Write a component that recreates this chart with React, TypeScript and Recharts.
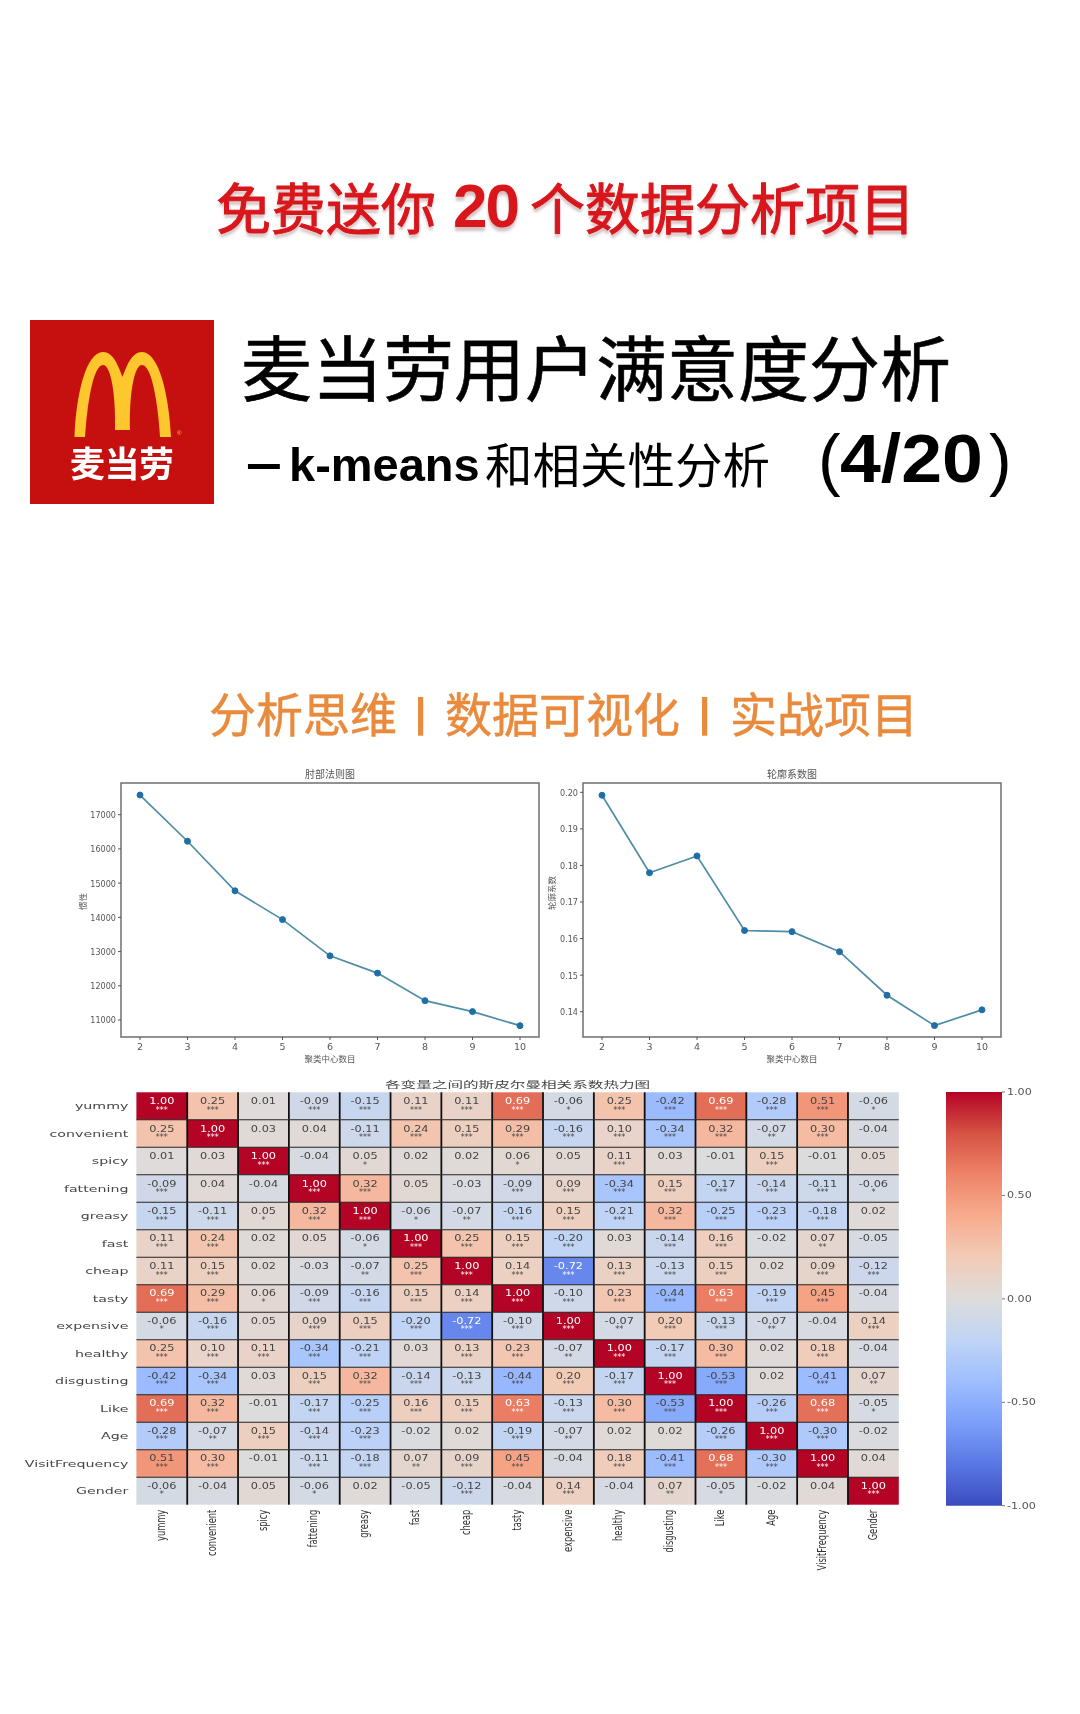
import { CSSProperties } from 'react'
import {
  LineChart, Line, BarChart, Bar, ScatterChart, Scatter, XAxis, YAxis, ReferenceArea,
} from 'recharts'

const clusterCounts = [2, 3, 4, 5, 6, 7, 8, 9, 10]
const inertiaValues = [17575, 16225, 14775, 13935, 12875, 12370, 11565, 11245, 10835]
const silhouetteValues = [0.1992, 0.178, 0.1826, 0.1622, 0.1619, 0.1564, 0.1445, 0.1362, 0.1405]
const inertiaTicks = [11000, 12000, 13000, 14000, 15000, 16000, 17000]
const silhouetteTicks = [0.14, 0.15, 0.16, 0.17, 0.18, 0.19, 0.2]

const variables = [
  'yummy', 'convenient', 'spicy', 'fattening', 'greasy', 'fast', 'cheap', 'tasty',
  'expensive', 'healthy', 'disgusting', 'Like', 'Age', 'VisitFrequency', 'Gender',
]

const correlations = [
  [1.0, 0.25, 0.01, -0.09, -0.15, 0.11, 0.11, 0.69, -0.06, 0.25, -0.42, 0.69, -0.28, 0.51, -0.06],
  [0.25, 1.0, 0.03, 0.04, -0.11, 0.24, 0.15, 0.29, -0.16, 0.1, -0.34, 0.32, -0.07, 0.3, -0.04],
  [0.01, 0.03, 1.0, -0.04, 0.05, 0.02, 0.02, 0.06, 0.05, 0.11, 0.03, -0.01, 0.15, -0.01, 0.05],
  [-0.09, 0.04, -0.04, 1.0, 0.32, 0.05, -0.03, -0.09, 0.09, -0.34, 0.15, -0.17, -0.14, -0.11, -0.06],
  [-0.15, -0.11, 0.05, 0.32, 1.0, -0.06, -0.07, -0.16, 0.15, -0.21, 0.32, -0.25, -0.23, -0.18, 0.02],
  [0.11, 0.24, 0.02, 0.05, -0.06, 1.0, 0.25, 0.15, -0.2, 0.03, -0.14, 0.16, -0.02, 0.07, -0.05],
  [0.11, 0.15, 0.02, -0.03, -0.07, 0.25, 1.0, 0.14, -0.72, 0.13, -0.13, 0.15, 0.02, 0.09, -0.12],
  [0.69, 0.29, 0.06, -0.09, -0.16, 0.15, 0.14, 1.0, -0.1, 0.23, -0.44, 0.63, -0.19, 0.45, -0.04],
  [-0.06, -0.16, 0.05, 0.09, 0.15, -0.2, -0.72, -0.1, 1.0, -0.07, 0.2, -0.13, -0.07, -0.04, 0.14],
  [0.25, 0.1, 0.11, -0.34, -0.21, 0.03, 0.13, 0.23, -0.07, 1.0, -0.17, 0.3, 0.02, 0.18, -0.04],
  [-0.42, -0.34, 0.03, 0.15, 0.32, -0.14, -0.13, -0.44, 0.2, -0.17, 1.0, -0.53, 0.02, -0.41, 0.07],
  [0.69, 0.32, -0.01, -0.17, -0.25, 0.16, 0.15, 0.63, -0.13, 0.3, -0.53, 1.0, -0.26, 0.68, -0.05],
  [-0.28, -0.07, 0.15, -0.14, -0.23, -0.02, 0.02, -0.19, -0.07, 0.02, 0.02, -0.26, 1.0, -0.3, -0.02],
  [0.51, 0.3, -0.01, -0.11, -0.18, 0.07, 0.09, 0.45, -0.04, 0.18, -0.41, 0.68, -0.3, 1.0, 0.04],
  [-0.06, -0.04, 0.05, -0.06, 0.02, -0.05, -0.12, -0.04, 0.14, -0.04, 0.07, -0.05, -0.02, 0.04, 1.0],
]

// significance stars per cell, one digit per column
const starCounts = [
  '330333331333331',
  '330033333333230',
  '003010010300300',
  '300330033333331',
  '331331233333330',
  '330013333033020',
  '330023333333033',
  '331333333333330',
  '130333333233203',
  '333330332333030',
  '330333333333032',
  '330333333333331',
  '323330032003330',
  '330332330333330',
  '100100303021003',
]

const colorbarTicks = [-1, -0.5, 0, 0.5, 1]
const coolwarm = [
  '#3b4cc0', '#5977e3', '#7b9ff9', '#9ebeff', '#c0d4f5', '#dddcdc',
  '#f2cbb7', '#f7ac8e', '#ee8468', '#d65244', '#b40426',
]

const CJK = '"Noto Sans CJK SC", sans-serif'
const LATIN = '"DejaVu Sans", sans-serif'
const HELV = '"Liberation Sans", sans-serif'

const CELL_W = 762.4 / 15
const CELL_H = 412.4 / 15

function hexToRgb(hex: string) {
  return [1, 3, 5].map(i => parseInt(hex.slice(i, i + 2), 16))
}

function coolwarmColor(v: number): string {
  const t = ((v + 1) / 2) * (coolwarm.length - 1)
  const i = Math.min(Math.floor(t), coolwarm.length - 2)
  const a = hexToRgb(coolwarm[i])
  const b = hexToRgb(coolwarm[i + 1])
  const c = a.map((ca, k) => Math.round(ca + (b[k] - ca) * (t - i)))
  return `rgb(${c[0]},${c[1]},${c[2]})`
}

const heatCells = correlations.flatMap((row, r) =>
  row.map((value, c) => ({ col: c + 0.5, row: r + 0.5, value, stars: Number(starCounts[r][c]) })),
)

const colorbarData = [{ name: 'scale', range: [-1, 1] }]

function Txt({ x, y, size, style, children }: { x: number; y: number; size: number; style?: CSSProperties; children: React.ReactNode }) {
  return (
    <div style={{ position: 'absolute', left: x, top: y, fontSize: size, lineHeight: 1, whiteSpace: 'nowrap', fontFamily: CJK, transformOrigin: 'left top', ...style }}>
      {children}
    </div>
  )
}

function LineYTick({ x, y, payload, digits }: any) {
  return (
    <g transform={`translate(${x},${y})`}>
      <text transform="scale(0.85,1)" textAnchor="end" dy="0.36em" fontSize={9.5} fontFamily={LATIN} fill="#555">
        {digits ? payload.value.toFixed(digits) : payload.value}
      </text>
    </g>
  )
}

function LineXTick({ x, y, payload }: any) {
  return (
    <text x={x} y={y + 8} textAnchor="middle" fontSize={9.5} fontFamily={LATIN} fill="#555">
      {payload.value}
    </text>
  )
}

function ElbowPanel({ left, values, ticks, domain, title, yLabel, yLabelOffset, digits }: {
  left: number; values: number[]; ticks: number[]; domain: [number, number]; title: string; yLabel: string; yLabelOffset: number; digits?: number
}) {
  const data = clusterCounts.map((k, i) => ({ k, value: values[i] }))
  return (
    <div style={{ position: 'absolute', left, top: 760 }}>
      <LineChart width={490} height={316} data={data} margin={{ top: 23, right: 11, bottom: 9, left: 11 }}>
        <XAxis
          dataKey="k" type="number" domain={[1.6, 10.4]} ticks={clusterCounts} interval={0}
          axisLine={false} tick={<LineXTick />} tickSize={3} tickLine={{ stroke: '#555' }} height={30}
          label={{ value: '聚类中心数目', position: 'insideBottom', offset: 5, fontSize: 8.5, fontFamily: CJK, fill: '#555' }}
        />
        <YAxis
          type="number" domain={domain} ticks={ticks} interval={0} width={50}
          axisLine={false} tick={<LineYTick digits={digits} />} tickSize={3} tickLine={{ stroke: '#555' }}
          label={{ value: yLabel, angle: -90, position: 'insideLeft', offset: yLabelOffset, fontSize: 8.5, fontFamily: CJK, fill: '#555' }}
        />
        <ReferenceArea x1={1.6} x2={10.4} y1={domain[0]} y2={domain[1]} fill="none" stroke="#6f6f6f" strokeWidth={1.5} strokeOpacity={1} />
        <Line
          dataKey="value" stroke="#4f8ca6" strokeWidth={1.7} isAnimationActive={false}
          dot={{ r: 3, fill: '#1f6fa5', stroke: '#1f6fa5', strokeWidth: 1 }}
        />
      </LineChart>
      <div style={{ position: 'absolute', left: 61, width: 418, top: 9, textAlign: 'center', fontSize: 10, lineHeight: 1, fontFamily: CJK, color: '#555' }}>
        {title}
      </div>
    </div>
  )
}

function HeatCell({ cx, cy, payload }: any) {
  const { value, stars } = payload
  const x = cx - CELL_W / 2
  const y = cy - CELL_H / 2
  const light = Math.abs(value) > 0.6
  const ink = light ? '#ffffff' : '#454545'
  return (
    <g>
      <rect x={x} y={y} width={CELL_W} height={CELL_H} fill={coolwarmColor(value)} />
      {payload.col > 1 && <line x1={x} x2={x} y1={y} y2={y + CELL_H} stroke="#101010" strokeWidth={1.8} />}
      {payload.row > 1 && <line x1={x} x2={x + CELL_W} y1={y} y2={y} stroke="#222" strokeWidth={1.1} />}
      <g transform={`translate(${cx},${cy - 5})`}>
        <text transform="scale(1.18,0.86)" textAnchor="middle" dy="0.36em" fontSize={9.6} fontFamily={LATIN} fill={ink}>
          {value.toFixed(2)}
        </text>
      </g>
      {stars > 0 && (
        <text x={cx} y={cy + 6.5} textAnchor="middle" fontSize={8} fontFamily={LATIN} fill={ink}>
          {'*'.repeat(stars)}
        </text>
      )}
    </g>
  )
}

function HeatXTick({ x, y, payload }: any) {
  return (
    <g transform={`translate(${x - 1.5},${y - 3})`}>
      <text transform="rotate(-90) scale(0.64,1)" textAnchor="end" dy="0.36em" fontSize={13} fontFamily={LATIN} fill="#333">
        {variables[Math.floor(payload.value)]}
      </text>
    </g>
  )
}

function HeatYTick({ x, y, payload }: any) {
  return (
    <g transform={`translate(${x},${y})`}>
      <text transform="scale(1.42,0.95)" textAnchor="end" dy="0.36em" fontSize={10} fontFamily={LATIN} fill="#444">
        {variables[Math.floor(payload.value)]}
      </text>
    </g>
  )
}

function ColorbarTick({ x, y, payload }: any) {
  return (
    <g transform={`translate(${x},${y})`}>
      <text transform="scale(1.16,0.85)" textAnchor="start" dy="0.36em" fontSize={9.6} fontFamily={LATIN} fill="#555">
        {payload.value.toFixed(2)}
      </text>
    </g>
  )
}

function Logo() {
  return (
    <div style={{ position: 'absolute', left: 30, top: 320, width: 184, height: 184, background: '#c5100f' }}>
      <svg width={184} height={184} style={{ position: 'absolute', left: 0, top: 0 }}>
        <path
          transform="translate(-30,-320)"
          fill="#fdc72d"
          d="M74.5,437 C76,395 86,352 103,352 C113,352 118,365 122.5,377 C127,365 132,352 142,352 C159,352 169,395 171,437 L160,437 C158,405 152,365 142,365 C134,365 129,395 130,430 L115,430 C116,395 111,365 103,365 C93,365 87,405 85,437 Z"
        />
      </svg>
      <Txt x={40} y={124} size={35} style={{ color: '#fff', fontWeight: 700, letterSpacing: -0.5 }}>麦当劳</Txt>
      <Txt x={147} y={110} size={6} style={{ color: '#fdc72d', fontFamily: HELV }}>®</Txt>
    </div>
  )
}

const redTitle: CSSProperties = {
  color: '#d8161c',
  WebkitTextStroke: '1px #d8161c',
  textShadow: '0 4px 3px rgba(170,130,130,0.5)',
}
const orange: CSSProperties = { color: '#e98a3c', WebkitTextStroke: '0.5px #e98a3c' }
const orangeBar: CSSProperties = { color: '#e98a3c', fontFamily: HELV, fontWeight: 700 }

export default function App() {
  return (
    <div style={{ position: 'absolute', left: 0, top: 0, width: 1080, height: 1714, overflow: 'hidden', background: '#fff', filter: 'blur(0.5px)' }}>
      <Txt x={216} y={178} size={55} style={redTitle}>免费送你</Txt>
      <Txt x={453} y={175} size={62} style={{ ...redTitle, fontWeight: 700, fontFamily: HELV, letterSpacing: -2, WebkitTextStroke: '0' }}>20</Txt>
      <Txt x={530} y={178} size={55} style={redTitle}>个数据分析项目</Txt>

      <Logo />

      <Txt x={241} y={329} size={71} style={{ color: '#000', WebkitTextStroke: '0.6px #000' }}>麦当劳用户满意度分析</Txt>
      <Txt x={246} y={437} size={46} style={{ color: '#000', fontWeight: 700, fontFamily: HELV, transform: 'scale(1.4,1.1)' }}>–</Txt>
      <Txt x={289} y={441} size={47} style={{ color: '#000', fontWeight: 700, fontFamily: HELV }}>k-means</Txt>
      <Txt x={485} y={439} size={47.5} style={{ color: '#000' }}>和相关性分析</Txt>
      <Txt x={818} y={425} size={68} style={{ color: '#000', fontFamily: HELV }}>(</Txt>
      <Txt x={840} y={424} size={68} style={{ color: '#000', fontWeight: 700, fontFamily: HELV, transform: 'scaleX(1.08)' }}>4/20</Txt>
      <Txt x={989} y={425} size={68} style={{ color: '#000', fontFamily: HELV }}>)</Txt>

      <Txt x={209} y={688} size={47} style={orange}>分析思维</Txt>
      <Txt x={415} y={693} size={40} style={orangeBar}>|</Txt>
      <Txt x={445} y={688} size={47} style={orange}>数据可视化</Txt>
      <Txt x={699} y={693} size={40} style={orangeBar}>|</Txt>
      <Txt x={730} y={688} size={47} style={orange}>实战项目</Txt>

      <ElbowPanel left={60} values={inertiaValues} ticks={inertiaTicks} domain={[10503, 17927]} title="肘部法则图" yLabel="惯性" yLabelOffset={12} />
      <ElbowPanel left={522} values={silhouetteValues} ticks={silhouetteTicks} domain={[0.13308, 0.20255]} title="轮廓系数图" yLabel="轮廓系数" yLabelOffset={19} digits={2} />

      <div style={{ position: 'absolute', left: 0, top: 1080 }}>
        <ScatterChart width={1000} height={530} margin={{ top: 12.3, right: 101.2, bottom: 0, left: 0 }}>
          <XAxis
            dataKey="col" type="number" domain={[0, 15]} ticks={variables.map((_, i) => i + 0.5)} interval={0}
            axisLine={false} tickLine={false} tick={<HeatXTick />} height={105.3}
          />
          <YAxis
            dataKey="row" type="number" domain={[0, 15]} reversed ticks={variables.map((_, i) => i + 0.5)} interval={0}
            axisLine={false} tickLine={false} tick={<HeatYTick />} width={136.4}
          />
          <Scatter data={heatCells} isAnimationActive={false} shape={<HeatCell />} />
        </ScatterChart>
        <div style={{ position: 'absolute', left: 385, top: 0, fontSize: 10, lineHeight: 1, whiteSpace: 'nowrap', fontFamily: CJK, color: '#444', transform: 'scale(1.56,0.9)', transformOrigin: 'left top' }}>
          各变量之间的斯皮尔曼相关系数热力图
        </div>
      </div>

      <div style={{ position: 'absolute', left: 946, top: 1082 }}>
        <BarChart width={110} height={434} data={colorbarData} barCategoryGap={0} margin={{ top: 10, right: 0, bottom: 10.3, left: 0 }}>
          <defs>
            <linearGradient id="coolwarmBar" x1="0" y1="1" x2="0" y2="0">
              {coolwarm.map((c, i) => (
                <stop key={c} offset={`${(i / (coolwarm.length - 1)) * 100}%`} stopColor={c} />
              ))}
            </linearGradient>
          </defs>
          <XAxis dataKey="name" hide />
          <YAxis
            orientation="right" type="number" domain={[-1, 1]} ticks={colorbarTicks} interval={0} width={54}
            axisLine={false} tick={<ColorbarTick />} tickSize={3} tickLine={{ stroke: '#777' }}
          />
          <Bar dataKey="range" fill="url(#coolwarmBar)" isAnimationActive={false} />
        </BarChart>
      </div>
    </div>
  )
}
